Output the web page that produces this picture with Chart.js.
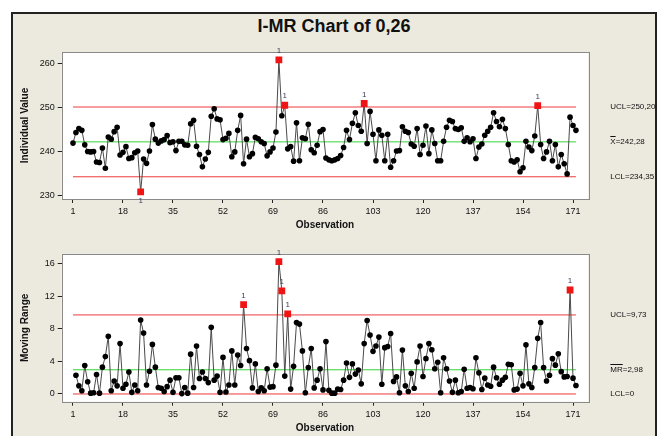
<!DOCTYPE html>
<html>
<head>
<meta charset="utf-8">
<script src="https://cdn.jsdelivr.net/npm/chart.js@4.4.1/dist/chart.umd.min.js"></script>
<style>
  body { margin: 0; background: #fff; }
  #wrap { position: relative; width: 663px; height: 436px; overflow: hidden; font-family: "Liberation Sans", Arial, sans-serif; }
  #frame { position: absolute; left: 11px; top: 12px; width: 642px; height: 440px; border: 2px solid #222; background: #ECE9DF; }
  #title { position: absolute; left: 11px; width: 646px; top: 15px; text-align: center; font-weight: bold; font-size: 18px; line-height: 22px; color: #111; }
  canvas { position: absolute; left: 0; }
</style>
</head>
<body>
<div id="wrap">
  <div id="frame"></div>
  <div id="title">I-MR Chart of 0,26</div>
  <canvas id="iChart" width="663" height="236" style="top:0"></canvas>
  <canvas id="mrChart" width="663" height="200" style="top:236px"></canvas>
</div>
<script>
const indValues = [
  242.0, 244.4, 245.3, 244.9, 241.6, 240.1, 240.0, 240.1, 237.7, 237.6,
  240.9, 236.3, 243.4, 242.9, 244.6, 245.6, 239.3, 239.9, 241.2, 238.5,
  238.7, 239.8, 240.2, 230.9, 238.4, 237.4, 240.2, 246.2, 242.9, 242.0,
  242.5, 242.8, 243.7, 242.1, 242.3, 240.3, 242.4, 242.4, 241.6, 241.5,
  246.4, 247.2, 241.3, 239.4, 236.6, 238.4, 239.9, 248.1, 249.8, 247.5,
  247.3, 242.8, 243.1, 244.2, 238.9, 240.0, 244.9, 248.3, 237.3, 242.9,
  238.9, 239.6, 243.3, 243.0, 242.3, 241.9, 239.1, 240.0, 240.9, 244.5,
  260.9, 248.2, 250.6, 240.7, 241.2, 237.9, 246.6, 238.0, 243.2, 243.0,
  246.3, 240.5, 239.8, 241.5, 244.6, 245.1, 238.6, 238.2, 238.0, 238.2,
  238.5, 239.2, 241.0, 244.9, 242.8, 246.5, 248.9, 246.0, 244.7, 251.0,
  241.9, 249.2, 244.0, 238.0, 245.0, 243.8, 238.0, 244.0, 236.5, 238.0,
  240.2, 240.3, 245.7, 244.7, 244.4, 241.8, 241.3, 245.3, 239.4, 241.5,
  245.9, 239.6, 245.0, 241.9, 238.0, 238.0, 242.4, 245.6, 247.2, 246.9,
  245.3, 245.1, 245.5, 242.4, 243.2, 242.3, 243.0, 238.5, 241.1, 241.8,
  243.8, 244.7, 245.6, 248.9, 246.9, 245.7, 247.4, 245.3, 241.7, 238.0,
  237.7, 238.2, 235.5, 236.4, 242.4, 241.1, 240.3, 243.6, 250.5, 241.7,
  238.5, 240.0, 242.4, 238.0, 241.7, 236.6, 239.4, 237.3, 235.0, 247.9,
  246.0, 244.9
];

// moving ranges (first one is undefined)
const mrValues = [
  null, 2.3, 1.0, 0.4, 3.5, 1.5, 0.1, 0.15, 2.4, 0.1,
  3.3, 4.6, 7.1, 0.4, 1.6, 1.0, 6.2, 0.7, 1.2, 2.7,
  0.2, 1.1, 0.4, 9.1, 7.5, 1.1, 2.8, 6.1, 3.3, 0.8,
  0.7, 0.3, 0.9, 1.7, 0.2, 2.0, 2.0, 0.05, 0.8, 0.1,
  4.9, 0.8, 5.9, 1.9, 2.7, 1.9, 1.4, 8.2, 1.7, 2.2,
  0.2, 4.5, 0.25, 1.1, 5.3, 1.1, 4.8, 3.5, 11.0, 5.6,
  4.1, 0.75, 3.7, 0.3, 0.75, 0.4, 3.1, 0.85, 0.9, 3.55,
  16.3, 12.7, 2.2, 9.85, 0.6, 3.4, 8.8, 8.6, 5.3, 0.15,
  3.25, 5.6, 0.75, 1.7, 3.1, 0.5, 6.45, 0.45, 0.1, 0.1,
  0.6, 0.55, 1.7, 3.8, 2.05, 3.7, 2.45, 2.95, 1.25, 6.2,
  9.05, 7.25, 5.25, 5.9, 7.0, 1.2, 5.7, 5.85, 7.45, 1.55,
  2.1, 0.15, 5.4, 1.0, 0.3, 2.55, 0.7, 3.95, 5.9, 2.15,
  4.35, 6.2, 5.45, 3.1, 3.9, 0.15, 4.45, 3.1, 1.6, 0.2,
  1.7, 0.15, 0.3, 3.05, 0.7, 0.8, 0.65, 4.45, 2.6, 0.55,
  1.95, 1.1, 0.95, 3.3, 2.0, 1.2, 1.7, 2.05, 3.65, 3.6,
  0.5, 0.6, 2.55, 1.0, 6.05, 1.25, 0.8, 3.25, 6.85, 8.8,
  3.25, 1.6, 2.3, 4.35, 3.55, 4.95, 2.75, 2.1, 2.15, 12.8,
  1.95, 1.05
];

const xTickLabels = [1, 18, 35, 52, 69, 86, 103, 120, 137, 154, 171];
const iTickLabels = [230, 240, 250, 260];
const mrTickLabels = [0, 4, 8, 12, 16];

// control limits as printed on the chart
const iUCL = 250.20, iMean = 242.28, iLCL = 234.35;
const mrUCL = 9.73, mrMean = 2.98, mrLCL = 0;
const iLimitText = ['UCL=250,20', 'X=242,28', 'LCL=234,35'];
const mrLimitText = ['UCL=9,73', 'MR=2,98', 'LCL=0'];

const FONT = '"Liberation Sans", Arial, sans-serif';
const RED = '#F01414';
const LIMIT_RED = '#EE3B3B';
const GREEN = '#35D435';
const n = indValues.length;

// white plotting area with grey box round it
const plotBox = {
  id: 'plotBox',
  beforeDraw(chart) {
    const { ctx, chartArea: a } = chart;
    ctx.save();
    ctx.fillStyle = '#fff';
    ctx.fillRect(a.left, a.top, a.right - a.left, a.bottom - a.top);
    ctx.restore();
  },
  afterDraw(chart) {
    const { ctx, chartArea: a } = chart;
    ctx.save();
    ctx.strokeStyle = '#8a8a8a';
    ctx.lineWidth = 1;
    ctx.strokeRect(Math.round(a.left) + 0.5, Math.round(a.top) + 0.5, Math.round(a.right - a.left), Math.round(a.bottom - a.top));
    ctx.restore();
  }
};

// limit labels on the right and the "1" flags over out-of-control points
const annotate = {
  id: 'annotate',
  afterDraw(chart, args, opts) {
    const { ctx, chartArea: a, scales } = chart;
    ctx.save();
    ctx.font = '8px ' + FONT;
    ctx.fillStyle = '#111';
    ctx.textBaseline = 'middle';
    ctx.textAlign = 'left';
    const lx = a.right + 22;
    opts.limits.forEach((v, k) => {
      const y = scales.y.getPixelForValue(v);
      ctx.fillText(opts.texts[k], lx, y);
      if (k === 1) {
        const w = ctx.measureText(opts.bar).width;
        ctx.fillRect(lx, Math.round(y - 6), w, 1);
      }
    });
    ctx.font = '8px ' + FONT;
    ctx.fillStyle = '#3c3c5a';
    ctx.textAlign = 'center';
    const meta = chart.getDatasetMeta(0);
    meta.data.forEach((pt, i) => {
      const v = opts.values[i];
      if (v == null) return;
      if (v > opts.ucl) ctx.fillText('1', pt.x, pt.y - 9);
      else if (v < opts.lcl) ctx.fillText('1', pt.x, pt.y + 9);
    });
    ctx.restore();
  }
};

function limitLine(v, color) {
  return {
    data: [{ x: 1, y: v }, { x: n, y: v }],
    borderColor: color, borderWidth: 1, pointRadius: 0, fill: false
  };
}

function seriesDataset(values, ucl, lcl) {
  const out = ctx => ctx.raw && ctx.raw.y != null && (ctx.raw.y > ucl || ctx.raw.y < lcl);
  return {
    data: values.map((v, i) => ({ x: i + 1, y: v })),
    borderColor: '#4a4a4a',
    borderWidth: 1,
    tension: 0,
    pointStyle: ctx => out(ctx) ? 'rect' : 'circle',
    pointRadius: ctx => out(ctx) ? 4.8 : 2.8,
    pointBackgroundColor: ctx => out(ctx) ? RED : '#000',
    pointBorderWidth: 0
  };
}

function makeOptions(cfg) {
  return {
    responsive: false,
    animation: false,
    events: [],
    layout: { padding: { left: 0, right: 74.7, top: cfg.top, bottom: 0 } },
    plugins: {
      legend: { display: false },
      tooltip: { enabled: false },
      annotate: cfg.annotate
    },
    scales: {
      x: {
        type: 'linear',
        min: -2.84,
        max: 176.2,
        afterFit: s => { s.height = cfg.xHeight; },
        afterBuildTicks: s => { s.ticks = xTickLabels.map(v => ({ value: v })); },
        grid: { drawOnChartArea: false, drawTicks: true, tickLength: 4, color: '#222' },
        border: { display: false },
        ticks: { font: { family: FONT, size: 9 }, color: '#111', padding: 3, maxRotation: 0, autoSkip: false },
        title: { display: true, text: 'Observation', color: '#111',
                 font: { family: FONT, size: 10, weight: 'bold' }, padding: { top: 0, bottom: cfg.xTitlePad } }
      },
      y: {
        min: cfg.yMin,
        max: cfg.yMax,
        afterFit: s => { s.width = 61.7; },
        afterBuildTicks: s => { s.ticks = cfg.yTicks.map(v => ({ value: v })); },
        grid: { drawOnChartArea: false, drawTicks: true, tickLength: 4, color: '#222' },
        border: { display: false },
        ticks: { font: { family: FONT, size: 9 }, color: '#111', padding: 3, autoSkip: false },
        title: { display: true, text: cfg.yTitle, color: '#111',
                 font: { family: FONT, size: 10, weight: 'bold' }, padding: { top: 19, bottom: 0 } }
      }
    }
  };
}

new Chart(document.getElementById('iChart'), {
  type: 'line',
  data: {
    datasets: [
      seriesDataset(indValues, iUCL, iLCL),
      limitLine(iUCL, LIMIT_RED),
      limitLine(iMean, GREEN),
      limitLine(iLCL, LIMIT_RED)
    ]
  },
  options: makeOptions({
    top: 52, xHeight: 37, xTitlePad: 5,
    yMin: 229.3, yMax: 262.7, yTicks: iTickLabels, yTitle: 'Individual Value',
    annotate: { limits: [iUCL, iMean, iLCL], texts: iLimitText, bar: 'X',
                values: indValues, ucl: iUCL, lcl: iLCL }
  }),
  plugins: [plotBox, annotate]
});

new Chart(document.getElementById('mrChart'), {
  type: 'line',
  data: {
    datasets: [
      seriesDataset(mrValues, mrUCL, -1),
      limitLine(mrUCL, LIMIT_RED),
      limitLine(mrMean, GREEN),
      limitLine(mrLCL, LIMIT_RED)
    ]
  },
  options: makeOptions({
    top: 18, xHeight: 34.3, xTitlePad: 2,
    yMin: -0.95, yMax: 17.23, yTicks: mrTickLabels, yTitle: 'Moving Range',
    annotate: { limits: [mrUCL, mrMean, mrLCL], texts: mrLimitText, bar: 'MR',
                values: mrValues, ucl: mrUCL, lcl: -1 }
  }),
  plugins: [plotBox, annotate]
});
</script>
</body>
</html>
